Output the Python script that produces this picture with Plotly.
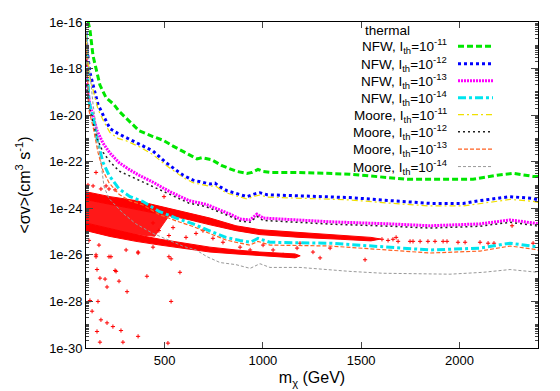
import numpy as np
import plotly.graph_objects as go

# ---- curves: m_chi (GeV) and log10(<sigma v> / cm^3 s^-1) ----
m_nfw11 = [100, 110, 120, 136, 156, 171, 202, 227, 242, 268, 319, 370, 441, 492, 543, 609, 665, 690,
           741, 792, 868, 919, 945, 975, 1001, 1036, 1153, 1326, 1443, 1734, 1902, 2069, 2192, 2273, 2375, 2400]
lsv_nfw11 = [-15.6, -16.00, -16.33, -17.46, -18.17, -18.71, -19.25, -19.42, -19.54, -19.83, -20.25, -20.67,
             -20.92, -21.08, -21.33, -21.63, -21.88, -21.83, -21.92, -22.17, -22.42, -22.50, -22.46, -22.33,
             -22.42, -22.46, -22.46, -22.50, -22.54, -22.75, -22.75, -22.75, -22.58, -22.50, -22.63, -22.63]

m_nfw12 = [100, 105, 120, 161, 192, 222, 263, 304, 370, 441, 507, 558, 594, 645, 695, 731, 756, 782,
           818, 868, 919, 960, 985, 1021, 1153, 1443, 1647, 1851, 2019, 2105, 2258, 2375, 2400]
lsv_nfw12 = [-16.4, -17.17, -18.17, -19.54, -20.08, -20.58, -20.79, -20.96, -21.21, -21.54, -22.04, -22.38,
             -22.58, -22.79, -22.88, -22.96, -22.92, -23.08, -23.25, -23.38, -23.50, -23.38, -23.33, -23.42,
             -23.46, -23.54, -23.67, -23.79, -23.79, -23.67, -23.50, -23.58, -23.63]
lsv_moore11 = [-16.5, -17.3, -18.4, -19.75, -20.3, -20.75, -21.0, -21.1, -21.35, -21.7, -22.15, -22.48,
               -22.68, -22.9, -22.98, -23.06, -23.02, -23.18, -23.35, -23.48, -23.60, -23.48, -23.43, -23.52,
               -23.56, -23.64, -23.78, -23.90, -23.90, -23.79, -23.62, -23.70, -23.75]

m_nfw13 = [100, 105, 120, 156, 187, 222, 268, 319, 370, 441, 527, 624, 711, 762, 833, 884, 935, 970,
           1001, 1174, 1342, 1647, 1851, 2105, 2258, 2375, 2400]
lsv_nfw13 = [-17.2, -18.71, -19.54, -20.67, -21.21, -21.63, -22.04, -22.33, -22.58, -22.88, -23.29, -23.67,
             -23.83, -24.00, -24.25, -24.46, -24.50, -24.25, -24.42, -24.50, -24.58, -24.67, -24.75, -24.67,
             -24.50, -24.63, -24.67]
lsv_moore12 = [-17.4, -18.9, -19.8, -21.0, -21.6, -22.0, -22.4, -22.6, -22.8, -23.05, -23.42, -23.78,
               -23.93, -24.1, -24.35, -24.55, -24.6, -24.35, -24.52, -24.6, -24.68, -24.77, -24.85, -24.77,
               -24.6, -24.73, -24.77]

m_nfw14 = [100, 105, 115, 136, 161, 187, 217, 268, 324, 390, 471, 558, 645, 726, 812, 884, 935, 975,
           1036, 1342, 1647, 1851, 2105, 2258, 2375, 2400]
lsv_nfw14 = [-16.5, -17.46, -19.42, -20.08, -21.21, -22.04, -22.58, -23.17, -23.50, -23.71, -24.13, -24.42,
             -24.67, -24.96, -25.25, -25.38, -25.46, -25.29, -25.46, -25.50, -25.67, -25.79, -25.71, -25.50,
             -25.63, -25.67]
lsv_moore13 = [-16.7, -17.8, -19.8, -20.5, -21.6, -22.4, -22.9, -23.4, -23.68, -23.86, -24.26, -24.54,
               -24.78, -25.07, -25.36, -25.5, -25.58, -25.42, -25.58, -25.62, -25.8, -25.92, -25.84, -25.62,
               -25.75, -25.8]

m_moore14 = [100, 105, 120, 136, 156, 176, 192, 217, 288, 354, 441, 522, 594, 660, 716, 782, 863, 935,
             985, 1036, 1189, 1443, 1611, 1952, 2120, 2258, 2375, 2400]
lsv_moore14 = [-16.2, -16.75, -18.17, -19.54, -20.92, -22.04, -23.08, -23.58, -24.21, -24.67, -25.08, -25.38,
               -25.63, -25.79, -26.08, -26.33, -26.42, -26.58, -26.38, -26.54, -26.54, -26.71, -26.79, -26.83,
               -26.75, -26.63, -26.71, -26.75]

# ---- thermal scan: dense bands (outline) + isolated points ----
band_hi_m = [100, 222, 354, 477, 609, 731, 863, 985, 1189, 1393, 1550, 1600,
             1550, 1393, 1189, 985, 863, 731, 609, 477, 354, 222, 100]
band_hi_lsv = [-23.29, -23.50, -23.67, -23.92, -24.17, -24.42, -24.75, -24.92, -25.04, -25.17, -25.25, -25.32,
               -25.40, -25.33, -25.25, -25.13, -24.96, -24.71, -24.46, -24.25, -24.04, -23.83, -23.63]

fan_m = [100, 222, 354, 450, 520, 450, 354, 222, 100]
fan_lsv = [-23.63, -23.83, -24.04, -24.2, -24.35, -25.2, -25.13, -24.88, -24.63]

band_lo_m = [100, 222, 354, 477, 609, 731, 863, 985, 1164, 1190,
             1164, 985, 863, 731, 609, 477, 354, 222, 100]
band_lo_lsv = [-24.63, -24.88, -25.13, -25.33, -25.50, -25.67, -25.79, -25.88, -25.96, -26.04,
               -26.13, -26.04, -25.96, -25.88, -25.75, -25.58, -25.42, -25.21, -24.96]

th_m = [156, 171, 197, 207, 248, 268, 309, 120, 161, 131, 176, 207, 237, 278, 156, 171, 288, 365, 517,
        533, 578, 410, 217, 365, 151, 253, 533, 1520, 2268,
        115, 166, 304, 441, 522, 365, 227, 151,
        471, 543, 609, 660, 746, 522, 441, 695, 797, 573,
        884, 935, 1001, 1052, 1103, 1174, 1255, 1291, 1342, 1189,
        1606, 1637, 1662, 1678, 1688, 1749, 1764, 1800, 1840, 1876, 1917, 1937, 1993, 2029, 2105, 2146,
        2176, 2375,
        136, 202, 248, 176, 217, 151, 497, 110]
th_lsv = [-26.63, -27.00, -27.04, -27.38, -26.67, -27.13, -27.58, -27.96, -28.00, -28.42, -28.79, -28.92,
          -29.08, -29.25, -29.29, -29.75, -29.75, -29.50, -29.79,
          -26.17, -26.75, -26.92, -26.08, -25.92, -26.00, -26.71, -28.00, -26.21, -24.75,
          -25.38, -25.58, -25.79, -25.67, -26.08, -25.88, -26.08, -26.08,
          -24.96, -24.83, -25.25, -25.08, -25.29, -25.17, -24.63, -24.96, -25.46, -25.58,
          -25.67, -25.79, -25.58, -25.79, -26.00, -25.71, -25.88, -26.13, -25.71, -25.50,
          -25.33, -25.38, -25.33, -25.25, -25.42, -25.42, -25.42, -25.42, -25.42, -25.42, -25.42, -25.42,
          -25.46, -25.46, -25.46, -25.50, -25.50, -25.50,
          -23.04, -23.04, -23.21, -23.17, -23.17, -22.46, -23.50, -23.0]

y_tick_vals = [1e-30, 1e-28, 1e-26, 1e-24, 1e-22, 1e-20, 1e-18, 1e-16]
y_tick_text = ["1e-30", "1e-28", "1e-26", "1e-24", "1e-22", "1e-20", "1e-18", "1e-16"]
x_tick_vals = [500, 1000, 1500, 2000]

curves = [
    ("NFW, I<sub>th</sub>=10<sup>-11</sup>", m_nfw11, lsv_nfw11, "#00e600", 3, "6px,3px"),
    ("NFW, I<sub>th</sub>=10<sup>-12</sup>", m_nfw12, lsv_nfw12, "#0000ff", 3, "3px,3px"),
    ("NFW, I<sub>th</sub>=10<sup>-13</sup>", m_nfw13, lsv_nfw13, "#ff00ff", 3, "2px,1px"),
    ("NFW, I<sub>th</sub>=10<sup>-14</sup>", m_nfw14, lsv_nfw14, "#00e5ee", 3, "8px,3px,3px,3px"),
    ("Moore, I<sub>th</sub>=10<sup>-11</sup>", m_nfw12, lsv_moore11, "#f0e000", 1.2, "6px,3px,2px,3px"),
    ("Moore, I<sub>th</sub>=10<sup>-12</sup>", m_nfw13, lsv_moore12, "#202020", 1.5, "2px,3px"),
    ("Moore, I<sub>th</sub>=10<sup>-13</sup>", m_nfw14, lsv_moore13, "#ff6020", 1.2, "4px,2px"),
    ("Moore, I<sub>th</sub>=10<sup>-14</sup>", m_moore14, lsv_moore14, "#999999", 1.0, "3px,2px"),
]

fig = go.Figure()

red = "#ff0000"
for bm, bl, op in [(fan_m, fan_lsv, 0.9), (band_hi_m, band_hi_lsv, 1.0), (band_lo_m, band_lo_lsv, 1.0)]:
    fig.add_trace(go.Scatter(x=bm, y=10 ** np.array(bl), mode="lines", fill="toself",
                             fillcolor=red, opacity=op, line=dict(color=red, width=1),
                             showlegend=False, hoverinfo="skip"))
fig.add_trace(go.Scatter(x=th_m, y=10 ** np.array(th_lsv), mode="markers", name="thermal",
                         marker=dict(symbol="cross-thin", size=3, line=dict(color=red, width=1)),
                         showlegend=False))

for name, xm, lsv, col, w, dash in curves:
    fig.add_trace(go.Scatter(x=xm, y=10 ** np.array(lsv), mode="lines", name=name,
                             line=dict(color=col, width=w, dash=dash), showlegend=False))

# page has an 8px body margin, so the figure is shrunk by that much
W, H = 552, 383
L, R, T, B = 78, 22, 7, 40
# plot box in screenshot pixels: x 86..538, y 15..351
def px(x): return (x - 86) / 452
def py(y): return (351 - y) / 336

# gnuplot-style key: right-aligned labels, sample to the right
key_font = dict(family="Liberation Sans, Arial, sans-serif", size=13.5, color="black")
ann = [dict(text="thermal", x=px(363), y=py(24), xref="paper", yref="paper",
            xanchor="left", yanchor="middle", showarrow=False, font=key_font)]
key_y = [40, 58, 75.5, 93, 110.5, 128, 146, 164]
shapes = []
for (name, _, _, col, w, dash), yk in zip(curves, key_y):
    ann.append(dict(text=name, x=px(449), y=py(yk), xref="paper", yref="paper",
                    xanchor="right", yanchor="middle", showarrow=False, font=key_font))
    shapes.append(dict(type="line", xref="paper", yref="paper", x0=px(458), x1=px(493),
                       y0=py(yk), y1=py(yk), line=dict(color=col, width=w, dash=dash)))

minor_vals = []
for d in range(-30, -16):
    for k in range(2, 10):
        minor_vals.append(k * 10.0 ** d)
    if d % 2:
        minor_vals.append(10.0 ** d)

font = dict(family="Liberation Sans, Arial, sans-serif", size=13, color="black")
fig.update_layout(
    width=W, height=H, margin=dict(l=L, r=R, t=T, b=B),
    plot_bgcolor="white", paper_bgcolor="white", font=font,
    annotations=ann, shapes=shapes,
    xaxis=dict(range=[100, 2400], tickvals=x_tick_vals, ticks="inside", ticklen=6,
               showline=True, linecolor="black", linewidth=1, mirror="ticks",
               showgrid=False, zeroline=False,
               title=dict(text="m<sub>χ</sub> (GeV)", standoff=5)),
    yaxis=dict(type="log", range=[-30, -16], tickvals=y_tick_vals, ticktext=y_tick_text,
               ticks="inside", ticklen=7, showline=True, linecolor="black", linewidth=1,
               mirror="ticks", showgrid=False, zeroline=False,
               minor=dict(tickvals=minor_vals, ticks="inside", ticklen=3, showgrid=False),
               title=dict(text="<σv>(cm<sup>3</sup> s<sup>-1</sup>)", standoff=14)),
)

fig.write_html("out.html")
